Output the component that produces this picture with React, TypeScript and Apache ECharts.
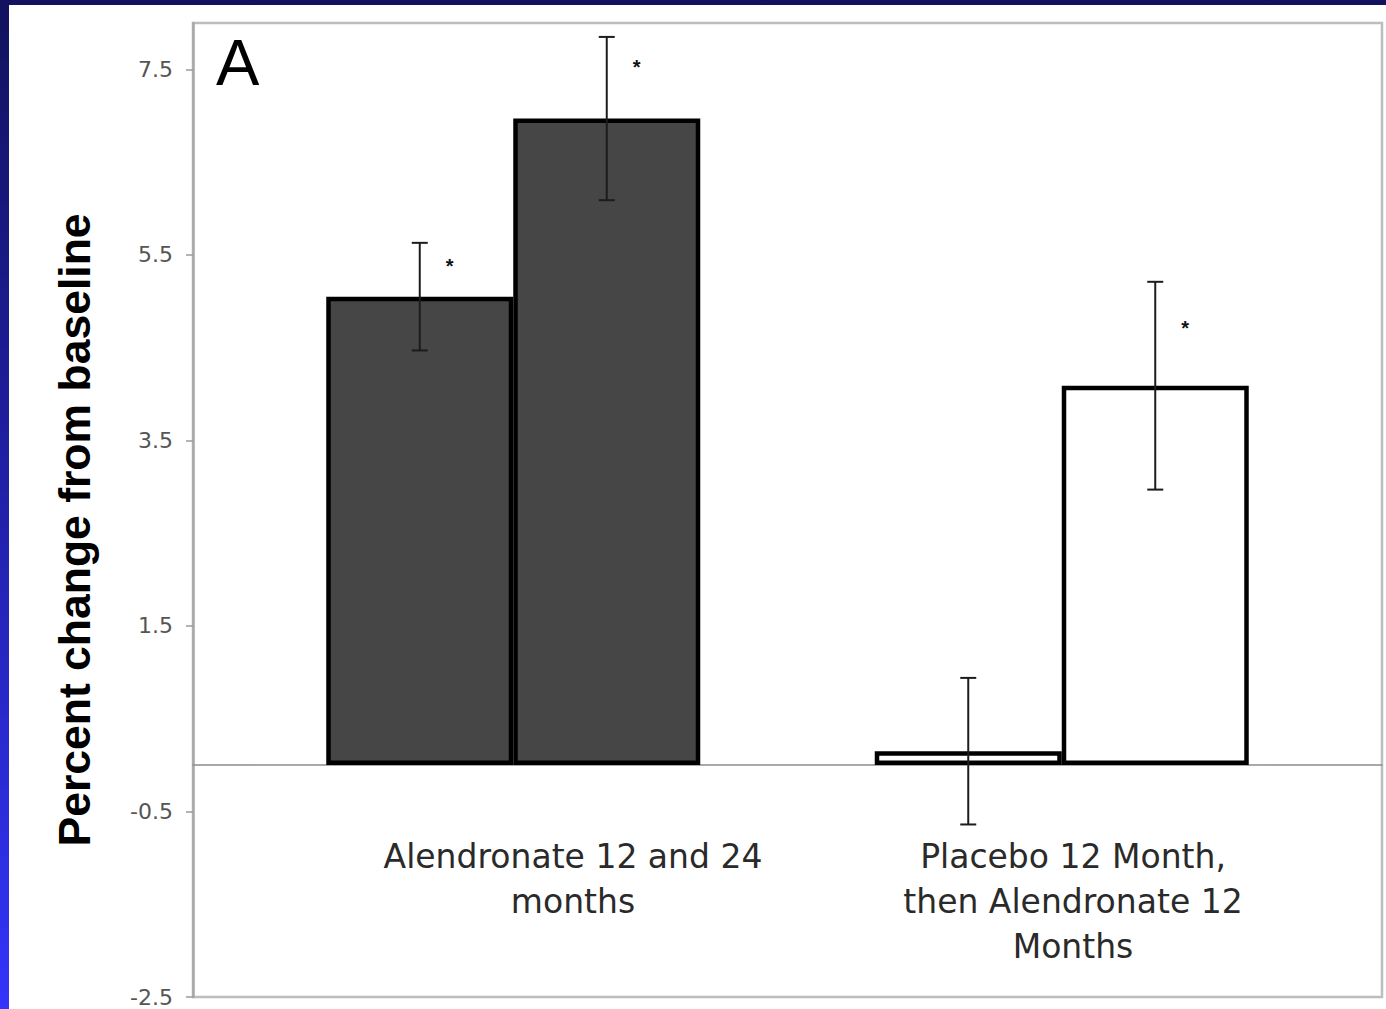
import React, { useEffect, useRef } from "react";
import * as echarts from "echarts";

// Two treatment groups, each with a 12-month and a 24-month bar
const categories = [
  "Alendronate 12 and 24\nmonths",
  "Placebo 12 Month,\nthen Alendronate 12\nMonths",
];
const month12 = [5.05, 0.15];
const month24 = [6.97, 4.09];
const month12Err = [0.58, 0.79];
const month24Err = [0.88, 1.12];
// level of the significance asterisk (null = not significant)
const month12Star: (number | null)[] = [5.43, null];
const month24Star: (number | null)[] = [7.58, 4.77];
const groupFill = ["#464646", "#ffffff"];
const yTicks = [-2.5, -0.5, 1.5, 3.5, 5.5, 7.5];
const yTitle = "Percent change from baseline";
const panelLetter = "A";

const BAR_W = 187;
const Y_MIN = -2.5;
const Y_MAX = 8;

export default function App() {
  const ref = useRef<HTMLDivElement>(null);

  useEffect(() => {
    if (!ref.current) return;
    const chart = echarts.init(ref.current, null, { renderer: "svg" });

    const rows = [
      ...month12.map((m, i) => ({ cat: i, slot: 0, mean: m, err: month12Err[i], star: month12Star[i] })),
      ...month24.map((m, i) => ({ cat: i, slot: 1, mean: m, err: month24Err[i], star: month24Star[i] })),
    ];

    const barData = (vals: number[]) =>
      vals.map((v, i) => ({
        value: v,
        itemStyle: { color: groupFill[i], borderColor: "#000", borderWidth: 4.5 },
      }));

    chart.setOption({
      animation: false,
      graphic: [
        {
          type: "rect",
          z: -10,
          silent: true,
          shape: { x: 9, y: 5, width: 1377, height: 1004 },
          style: { fill: "#ffffff" },
        },
        {
          type: "text",
          x: 216,
          y: 62,
          z: 10,
          style: {
            text: panelLetter,
            font: "normal 65px 'Liberation Sans', Arial, sans-serif",
            fill: "#000",
            align: "left",
            verticalAlign: "middle",
          },
        },
        {
          type: "text",
          x: 74,
          y: 530,
          rotation: Math.PI / 2,
          z: 10,
          style: {
            text: yTitle,
            font: "bold 44.5px 'Liberation Sans', Arial, sans-serif",
            fill: "#000",
            align: "center",
            verticalAlign: "middle",
          },
        },
      ],
      grid: [
        { left: 239, top: 23, width: 1097, height: 974 },
        {
          left: 193,
          top: 23,
          width: 1189,
          height: 974,
          show: true,
          borderColor: "#bdbdbd",
          borderWidth: 2.5,
          backgroundColor: "transparent",
        },
        { left: 323, top: 700, width: 1000, height: 134 },
      ],
      xAxis: [
        { gridIndex: 0, type: "category", data: categories, show: false },
        {
          gridIndex: 1,
          type: "value",
          min: 0,
          max: 1,
          axisLine: { show: true, onZero: true, lineStyle: { color: "#8c8c8c", width: 1.5 } },
          axisTick: { show: false },
          axisLabel: { show: false },
          splitLine: { show: false },
        },
        {
          gridIndex: 2,
          type: "category",
          data: categories,
          position: "bottom",
          axisLine: { show: false },
          axisTick: { show: false },
          splitLine: { show: false },
          axisLabel: {
            interval: 0,
            margin: 0,
            color: "#2a2a2a",
            fontFamily: "'DejaVu Sans', sans-serif",
            fontSize: 33,
            lineHeight: 45,
            align: "center",
          },
        },
      ],
      yAxis: [
        { gridIndex: 0, type: "value", min: Y_MIN, max: Y_MAX, show: false },
        {
          gridIndex: 1,
          type: "value",
          min: Y_MIN,
          max: Y_MAX,
          interval: 2,
          axisLine: { show: true, lineStyle: { color: "#a8a8a8", width: 2.5 } },
          axisTick: {
            show: true,
            length: 7,
            customValues: yTicks,
            lineStyle: { color: "#9a9a9a", width: 1.5 },
          },
          axisLabel: {
            customValues: yTicks,
            margin: 20,
            color: "#555555",
            fontFamily: "'DejaVu Sans', sans-serif",
            fontSize: 22,
            formatter: (v: number) => v.toFixed(1),
          },
          splitLine: { show: false },
        },
        { gridIndex: 2, type: "value", min: 0, max: 1, show: false },
      ],
      series: [
        {
          type: "bar",
          xAxisIndex: 0,
          yAxisIndex: 0,
          barWidth: BAR_W,
          barGap: "0%",
          data: barData(month12),
          z: 2,
        },
        {
          type: "bar",
          xAxisIndex: 0,
          yAxisIndex: 0,
          barWidth: BAR_W,
          barGap: "0%",
          data: barData(month24),
          z: 2,
        },
        {
          type: "custom",
          xAxisIndex: 0,
          yAxisIndex: 0,
          z: 5,
          encode: { x: 0, y: 2 },
          data: rows.map((r) => [r.cat, r.slot, r.mean, r.err]),
          renderItem: (params: any, api: any) => {
            const r = rows[params.dataIndex];
            const cx = api.coord([r.cat, r.mean])[0] + (r.slot - 0.5) * BAR_W;
            const top = api.coord([r.cat, r.mean + r.err])[1];
            const bot = api.coord([r.cat, r.mean - r.err])[1];
            const stroke = { stroke: "#1c1c1c", lineWidth: 2 };
            const children: any[] = [
              { type: "line", shape: { x1: cx, y1: top, x2: cx, y2: bot }, style: stroke },
              { type: "line", shape: { x1: cx - 8, y1: top, x2: cx + 8, y2: top }, style: stroke },
              { type: "line", shape: { x1: cx - 8, y1: bot, x2: cx + 8, y2: bot }, style: stroke },
            ];
            if (r.star !== null) {
              const sy = api.coord([r.cat, r.star])[1];
              children.push({
                type: "text",
                x: cx + 30,
                y: sy + 5,
                style: {
                  text: "*",
                  font: "bold 20px 'Liberation Sans', Arial, sans-serif",
                  fill: "#111",
                  align: "center",
                  verticalAlign: "middle",
                },
              });
            }
            return { type: "group", children };
          },
        },
      ],
    });

    return () => chart.dispose();
  }, []);

  return (
    <div
      style={{
        position: "fixed",
        left: 0,
        top: 0,
        width: 1386,
        height: 1009,
        background: "linear-gradient(180deg, #12125e 0%, #1f1fa2 45%, #3434fa 100%)",
      }}
    >
      <div ref={ref} style={{ width: 1386, height: 1009 }} />
    </div>
  );
}
